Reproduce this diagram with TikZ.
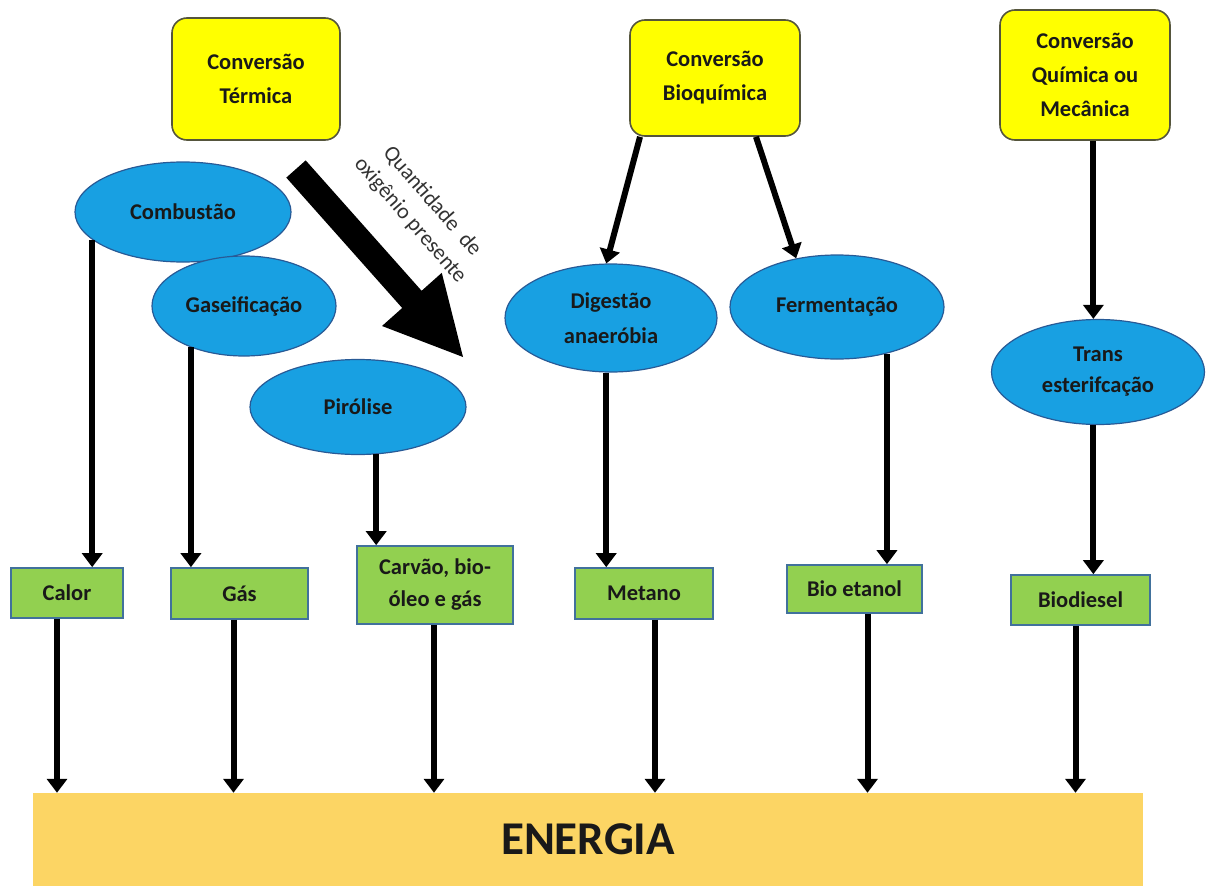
\documentclass[tikz,border=0pt]{standalone}
\usepackage{fontspec}
\setmainfont{Carlito}
\usetikzlibrary{arrows.meta,shapes.geometric,calc}
\definecolor{ybox}{RGB}{255,255,0}
\definecolor{yline}{RGB}{85,85,60}
\definecolor{bfill}{RGB}{24,160,226}
\definecolor{bline}{RGB}{40,90,150}
\definecolor{gfill}{RGB}{146,208,80}
\definecolor{gline}{RGB}{65,113,156}
\definecolor{efill}{RGB}{252,213,100}
\definecolor{txt}{RGB}{25,25,25}
\tikzset{
  convbox/.style={draw=yline,line width=1.6pt,fill=ybox,rounded corners=15pt,inner sep=0pt,align=center,
    font=\fontsize{22.5}{34}\selectfont\bfseries,text=txt},
  procell/.style={ellipse,draw=bline,line width=1.2pt,fill=bfill,inner sep=0pt,align=center,
    font=\fontsize{22.5}{35}\selectfont\bfseries,text=txt},
  prodbox/.style={draw=gline,line width=1.6pt,fill=gfill,inner sep=0pt,align=center,
    font=\fontsize{22.5}{32}\selectfont\bfseries,text=txt},
  arr/.style={line width=6pt,-{Triangle[length=14pt,width=20pt]}},
}
\begin{document}
\begin{tikzpicture}[x=1pt,y=-1pt]
\useasboundingbox (0,0) rectangle (1210,886);
% conversion boxes
\node[convbox,minimum width=168pt,minimum height=122pt] (term) at (256,79) {Conversão\\Térmica};
\node[convbox,minimum width=170pt,minimum height=116pt] (bio) at (715,78) {Conversão\\Bioquímica};
\node[convbox,minimum width=170pt,minimum height=130pt] (quim) at (1085,75) {Conversão\\Química ou\\Mecânica};
% processes
\node[procell,minimum width=216pt,minimum height=100pt] (comb) at (183,212) {Combustão};
\node[procell,minimum width=184pt,minimum height=100pt] (gasf) at (244,306) {Gaseificação};
\node[procell,minimum width=216pt,minimum height=95pt] (pir) at (358,407) {Pirólise};
\node[procell,minimum width=212pt,minimum height=108pt] (dig) at (611,318) {Digestão\\anaeróbia};
\node[procell,minimum width=214pt,minimum height=104pt] (ferm) at (837,307) {Fermentação};
\node[procell,minimum width=213pt,minimum height=105pt,font=\fontsize{22.5}{31}\selectfont\bfseries] (trans) at (1098,372) {Trans\\esterifcação};
% products
\node[prodbox,minimum width=112pt,minimum height=50pt] (calor) at (67,593) {Calor};
\node[prodbox,minimum width=137pt,minimum height=51pt] (gas) at (239.5,593.5) {Gás};
\node[prodbox,minimum width=156pt,minimum height=78pt] (carv) at (435,585) {Carvão, bio-\\óleo e gás};
\node[prodbox,minimum width=138pt,minimum height=51pt] (met) at (644,593.5) {Metano};
\node[prodbox,minimum width=135pt,minimum height=48pt] (etan) at (854.5,589) {Bio etanol};
\node[prodbox,minimum width=139pt,minimum height=50pt] (biod) at (1080.5,600) {Biodiesel};
% energy bar
\node[fill=efill,minimum width=1110pt,minimum height=93pt,inner sep=0pt,
  font=\fontsize{47}{52}\selectfont\bfseries,text=txt] (en) at (588,839.5) {ENERGIA};
% big oxygen arrow
\fill[black] (286.3,177.6) -- (402.2,308.0) -- (382,326) -- (463,357) -- (441.8,272.8) -- (421.6,290.8) -- (305.7,160.4) -- cycle;
\node[rotate=-49,align=center,text=black!80,font=\fontsize{22}{29}\selectfont] (oxy) at (421,211)
  {Quantidade\ \ de\\oxigênio presente};
% arrows process -> product
\draw[arr] (comb.197) -- (comb.197 |- calor.north);
\draw[arr] (gasf.218) -- (gasf.218 |- gas.north);
\draw[arr] (pir.291) -- (pir.291 |- carv.north);
\draw[arr] (dig.265) -- (dig.265 |- met.north);
\draw[arr] (ferm.317) -- (ferm.317 |- etan.north);
\draw[arr] (trans.265) -- (trans.265 |- biod.north);
% arrows conversion -> process
\draw[arr] ($(bio.south)+(-75,0)$) -- (dig.95);
\draw[arr] ($(bio.south)+(41,0)$) -- (ferm.130);
\draw[arr] (quim.south -| trans.265) -- (trans.265 |- trans.north);
% arrows product -> energy
\coordinate (p1) at ($(calor.south)+(-10,0)$);
\coordinate (p2) at ($(gas.south)+(-6,0)$);
\coordinate (p3) at ($(carv.south)+(-1,0)$);
\coordinate (p4) at ($(met.south)+(11,0)$);
\coordinate (p5) at ($(etan.south)+(13,0)$);
\coordinate (p6) at ($(biod.south)+(-5,0)$);
\foreach \p in {p1,p2,p3,p4,p5,p6}{
  \draw[arr] (\p) -- (\p |- en.north);
}
\end{tikzpicture}
\end{document}
